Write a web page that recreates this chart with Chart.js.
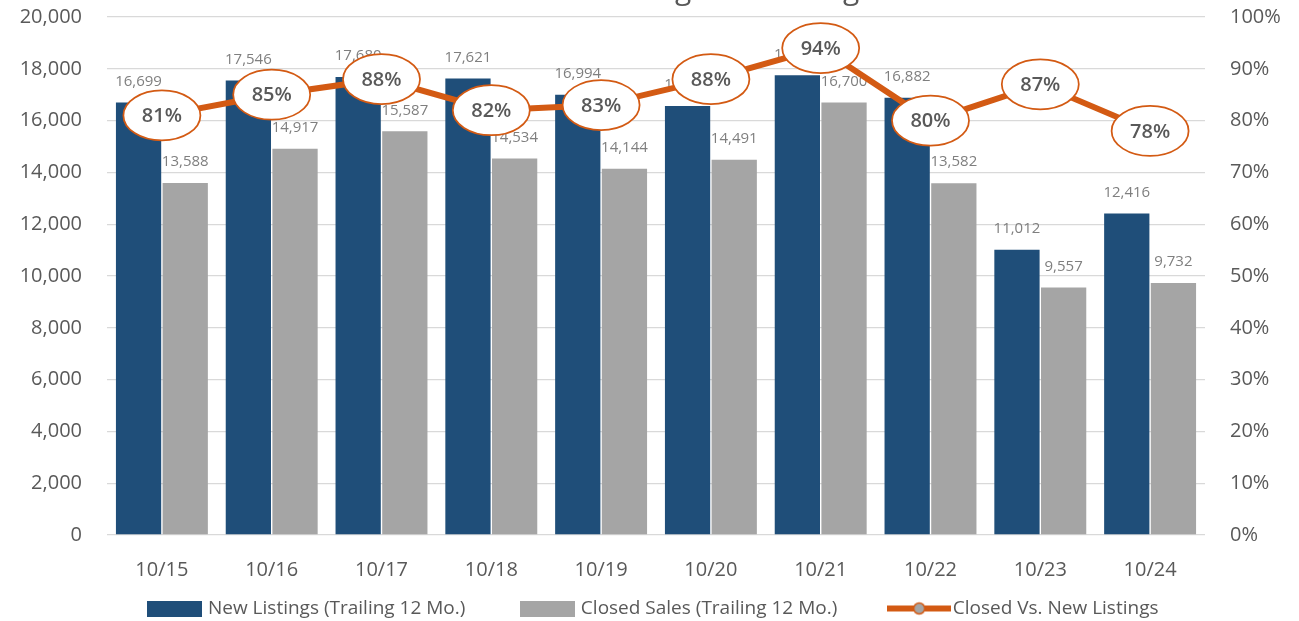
<!DOCTYPE html>
<html>
<head>
<meta charset="utf-8">
<title>New Listings vs. Closings</title>
<script src="https://cdn.jsdelivr.net/npm/chart.js@4.4.1/dist/chart.umd.min.js"></script>
<style>
    html, body { margin: 0; padding: 0; background: #fff; overflow: hidden; }
    .chart-box { position: relative; width: 1299px; height: 621px; }
</style>
</head>
<body>
<div class="chart-box"><canvas id="listingsChart"></canvas></div>
<script>
// Chart data
const chartTitle = 'New Listings vs. Closings';
const categories = ['10/15', '10/16', '10/17', '10/18', '10/19', '10/20', '10/21', '10/22', '10/23', '10/24'];
const newListings = [16699, 17546, 17680, 17621, 16994, 16560, 17750, 16882, 11012, 12416];
const closedSales = [13588, 14917, 15587, 14534, 14144, 14491, 16700, 13582, 9557, 9732];
const closedRatio = [81, 85, 88, 82, 83, 88, 94, 80, 87, 78];
const leftTicks = [0, 2000, 4000, 6000, 8000, 10000, 12000, 14000, 16000, 18000, 20000];
const rightTicks = [0, 10, 20, 30, 40, 50, 60, 70, 80, 90, 100];

const BLUE = '#1F4E79';
const GREY = '#A5A5A5';
const ORANGE = '#D35A13';
const TEXT = '#595959';
const FONT = "'Open Sans', 'Noto Sans', sans-serif";

// Little canvases used as legend icons
function makeIcon(w, h, draw) {
    const c = document.createElement('canvas');
    c.width = w;
    c.height = h;
    draw(c.getContext('2d'));
    return c;
}
const legendIcons = [
    makeIcon(55, 16, ctx => { ctx.fillStyle = BLUE; ctx.fillRect(0, 0, 55, 16); }),
    makeIcon(55, 16, ctx => { ctx.fillStyle = GREY; ctx.fillRect(0, 0, 55, 16); }),
    makeIcon(64, 16, ctx => {
        ctx.strokeStyle = ORANGE;
        ctx.lineWidth = 6;
        ctx.beginPath(); ctx.moveTo(0, 8); ctx.lineTo(64, 8); ctx.stroke();
        ctx.fillStyle = GREY;
        ctx.lineWidth = 1.5;
        ctx.beginPath(); ctx.arc(32, 8, 5.5, 0, Math.PI * 2); ctx.fill(); ctx.stroke();
    })
];
const legendOrder = [1, 2, 0];

const fmt = v => v.toLocaleString('en-US');

// Legend box is kept short and its items are nudged into place
const legendFit = {
    id: 'legendFit',
    beforeInit(chart) {
        const legend = chart.legend;
        const origFit = legend.fit;
        const origDraw = legend.draw;
        legend.fit = function () {
            origFit.call(this);
            this.height = 39;
        };
        legend.draw = function () {
            const t = this.top, l = this.left;
            this.top = t - 41;
            this.left = l + 10;
            origDraw.call(this);
            this.top = t;
            this.left = l;
        };
    }
};

// Draws the value labels, the bubble labels and the clipped title
const labelPlugin = {
    id: 'labelPlugin',
    beforeDatasetDraw(chart, args) {
        if (args.meta.type !== 'line') return;
        const ctx = chart.ctx;
        ctx.save();
        ctx.font = '15px ' + FONT;
        ctx.fillStyle = '#7F7F7F';
        ctx.textAlign = 'center';
        ctx.textBaseline = 'middle';
        [1, 2].forEach(i => {
            const meta = chart.getDatasetMeta(i);
            meta.data.forEach((bar, j) => {
                ctx.fillText(fmt(chart.data.datasets[i].data[j]), bar.x, bar.y - 21);
            });
        });
        ctx.restore();
    },
    afterDatasetDraw(chart, args) {
        if (args.meta.type !== 'line') return;
        const ctx = chart.ctx;
        ctx.save();
        args.meta.data.forEach((pt, j) => {
            ctx.beginPath();
            ctx.ellipse(pt.x, pt.y, 38.5, 25, 0, 0, Math.PI * 2);
            ctx.fillStyle = '#fff';
            ctx.fill();
            ctx.lineWidth = 1.75;
            ctx.strokeStyle = ORANGE;
            ctx.stroke();
            ctx.font = '600 20px ' + FONT;
            ctx.fillStyle = TEXT;
            ctx.textAlign = 'center';
            ctx.textBaseline = 'middle';
            ctx.fillText(closedRatio[j] + '%', pt.x, pt.y + 1);
        });
        ctx.restore();
    },
    afterDraw(chart) {
        // title sits mostly above the top edge, only descenders show
        const ctx = chart.ctx;
        ctx.save();
        ctx.font = '30px ' + FONT;
        ctx.fillStyle = TEXT;
        ctx.textAlign = 'left';
        ctx.textBaseline = 'alphabetic';
        const x = 675 - ctx.measureText('New Listin').width;
        ctx.fillText(chartTitle, x, -1);
        ctx.restore();
    }
};

const ctx = document.getElementById('listingsChart').getContext('2d');
const listingsChart = new Chart(ctx, {
    type: 'bar',
    data: {
        labels: categories,
        datasets: [{
            type: 'line',
            label: 'Closed Vs. New Listings',
            data: closedRatio,
            yAxisID: 'yRatio',
            borderColor: ORANGE,
            backgroundColor: GREY,
            borderWidth: 6,
            pointRadius: 0,
            tension: 0,
            order: 0
        }, {
            label: 'New Listings (Trailing 12 Mo.)',
            data: newListings,
            yAxisID: 'y',
            backgroundColor: BLUE,
            categoryPercentage: 0.85,
            barPercentage: 0.97,
            order: 1
        }, {
            label: 'Closed Sales (Trailing 12 Mo.)',
            data: closedSales,
            yAxisID: 'y',
            backgroundColor: GREY,
            categoryPercentage: 0.85,
            barPercentage: 0.97,
            order: 2
        }]
    },
    options: {
        responsive: true,
        maintainAspectRatio: false,
        animation: false,
        layout: {
            padding: { top: 17, left: 0, right: 0, bottom: 0 }
        },
        plugins: {
            title: { display: false },
            tooltip: { enabled: false },
            legend: {
                position: 'bottom',
                labels: {
                    usePointStyle: true,
                    pointStyleWidth: 48,
                    boxHeight: 16,
                    padding: 58,
                    color: TEXT,
                    font: { family: FONT, size: 19 },
                    sort: (a, b) => legendOrder.indexOf(a.datasetIndex) - legendOrder.indexOf(b.datasetIndex),
                    generateLabels(chart) {
                        const items = Chart.defaults.plugins.legend.labels.generateLabels(chart);
                        items.forEach(it => {
                            it.pointStyle = legendIcons[legendOrder.indexOf(it.datasetIndex)];
                        });
                        return items;
                    }
                }
            }
        },
        scales: {
            x: {
                afterFit(scale) { scale.height = 47; },
                grid: { display: false, drawTicks: false },
                border: { display: false },
                ticks: {
                    color: TEXT,
                    padding: 23,
                    font: { family: FONT, size: 20 }
                }
            },
            y: {
                position: 'left',
                min: 0,
                max: 20000,
                afterFit(scale) { scale.width = 107; },
                afterBuildTicks(scale) { scale.ticks = leftTicks.map(v => ({ value: v })); },
                // an invisible tick mark keeps the labels off the plot
                grid: { color: '#D9D9D9', lineWidth: 1.3, drawTicks: true, tickLength: 20, tickColor: 'rgba(0,0,0,0)' },
                border: { display: false },
                ticks: {
                    color: TEXT,
                    padding: 5,
                    font: { family: FONT, size: 20 },
                    callback: v => fmt(v)
                }
            },
            yRatio: {
                position: 'right',
                min: 0,
                max: 100,
                afterFit(scale) { scale.width = 94; },
                afterBuildTicks(scale) { scale.ticks = rightTicks.map(v => ({ value: v })); },
                grid: { display: true, drawOnChartArea: false, drawTicks: true, tickLength: 20, tickColor: 'rgba(0,0,0,0)' },
                border: { display: false },
                ticks: {
                    color: TEXT,
                    padding: 5,
                    font: { family: FONT, size: 20 },
                    callback: v => v + '%'
                }
            }
        }
    },
    plugins: [legendFit, labelPlugin]
});
</script>
</body>
</html>
